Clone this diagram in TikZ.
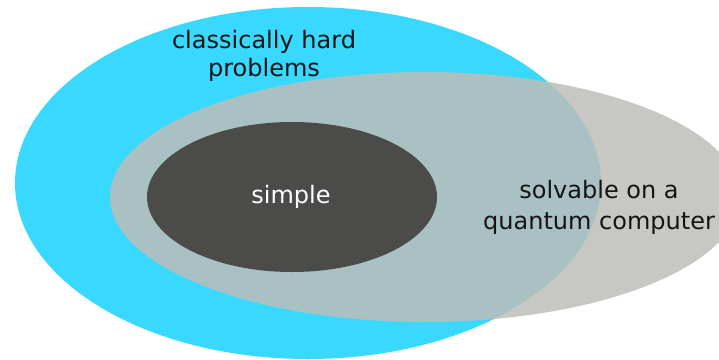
\documentclass[tikz,border=0pt]{standalone}
\usepackage{fontspec}
\setmainfont{DejaVu Sans}
\usepackage{xcolor}
\usepackage{tikz}
\usetikzlibrary{positioning}
\definecolor{hardblue}{RGB}{56,216,255}
\definecolor{quantgray}{RGB}{190,190,185}
\definecolor{simpledark}{RGB}{75,76,73}
\tikzstyle{Label} = [
font=\fontsize{24}{28}\selectfont, 
align=center, inner sep=0pt, text=black!92
]

\begin{document}
\begin{tikzpicture}[x=1pt, y=-1pt]
			\useasboundingbox (0,0) rectangle (719,359);
			\clip (0,0) rectangle (719,359);
			\fill[white] (0,0) rectangle (719,359);
			
			\fill[hardblue] (308,183) ellipse [x radius=293, y radius=176];
			\fill[quantgray, fill opacity=0.85] (425,197) ellipse [x radius=315, y radius=125];
			\fill[simpledark] (292,197) ellipse [x radius=145, y radius=75];
			
			\node[Label] (1) at (264,56) {classically hard\\problems};
			\node[Label, text=white] (2) at (291,197) {simple};
			\node[Label, font=\fontsize{24}{31}\selectfont] (3) at (599,207) {solvable on a\\quantum computer};
		\end{tikzpicture}
\end{document}
